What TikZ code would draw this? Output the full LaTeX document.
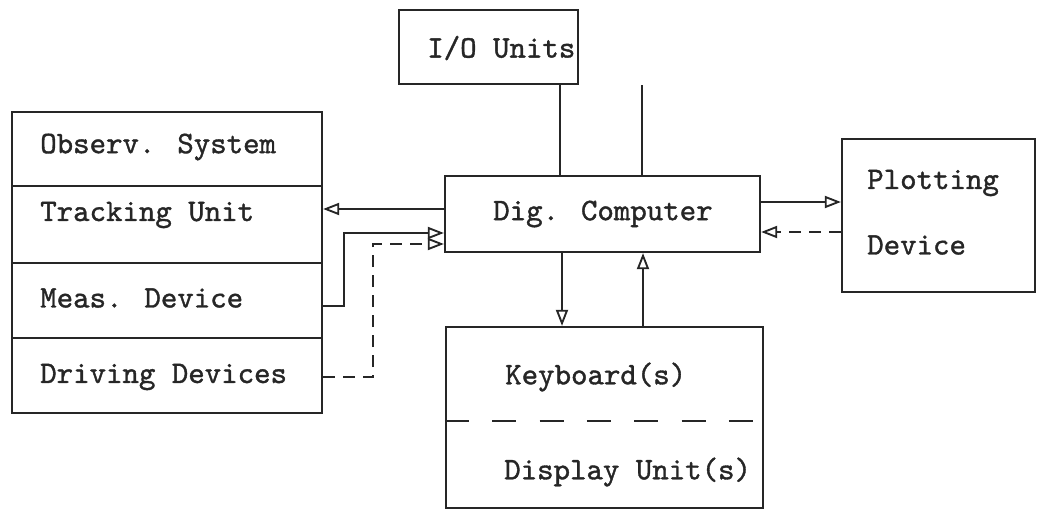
\documentclass[tikz,border=0pt]{standalone}
\usepackage{fontspec}
\newfontfamily\twfont[FakeBold=1.2]{lmmono10-regular.otf}
\usetikzlibrary{arrows.meta,fit,calc}
\begin{document}
\begin{tikzpicture}[x=0.75pt,y=-0.75pt,
  ln/.style={line width=1.7pt, draw=black!85},
  box/.style={draw, ln, inner sep=0pt},
  lbl/.style={font=\fontsize{23.5}{28}\selectfont\twfont, anchor=west, inner sep=0pt, text=black!85},
  arr/.style={ln, -{Triangle[open,length=12pt,width=9pt,line width=1.4pt]}},
  dsh/.style={dash pattern=on 9pt off 6pt}]
\fill[white] (0,0) rectangle (1038,510);
\useasboundingbox (0,0) rectangle (1038,510);
% coordinates for connector levels
\coordinate (y209) at (0,209);
\coordinate (y306) at (0,306);
\coordinate (y233) at (0,233);
\coordinate (y377) at (0,377);
\coordinate (y244) at (0,244);
\coordinate (y202) at (0,202);
\coordinate (y232) at (0,232);
\coordinate (y421) at (0,421);
\coordinate (x560) at (560,0);
\coordinate (x642) at (642,0);
\coordinate (x562) at (562,0);
\coordinate (x643) at (643,0);
% boxes
\node[box, fit={(12,112)(322,186)}] (obs) {};
\node[box, fit={(12,186)(322,263)}] (trk) {};
\node[box, fit={(12,263)(322,338)}] (meas) {};
\node[box, fit={(12,338)(322,413)}] (drv) {};
\node[box, fit={(399,10)(578,84)}] (io) {};
\node[box, fit={(445,176)(760,252)}] (dig) {};
\node[box, fit={(842,139)(1035,292)}] (plot) {};
\node[box, fit={(446,327)(763,508)}] (kbd) {};
\draw[ln, dash pattern=on 18pt off 17.5pt] (kbd.west |- y421) -- (kbd.east |- y421);
% labels
\node[lbl] (tobs) at (40,147) {Observ. System};
\node[lbl] (ttrk) at (40,215) {Tracking Unit};
\node[lbl] (tmeas) at (40,298) {Meas. Device};
\node[lbl] (tdrv) at (40,377) {Driving Devices};
\node[lbl] (tio) at (427,48) {I/O Units};
\node[lbl] (tdig) at (493,214) {Dig. Computer};
\node[lbl] (tplot1) at (867,183) {Plotting};
\node[lbl] (tplot2) at (867,245) {Device};
\node[lbl] (tkbd) at (505,377) {Keyboard(s)};
\node[lbl] (tdisp) at (504,472) {Display Unit(s)};
% connectors
\draw[arr] (dig.west |- y209) -- (trk.east |- y209);
\draw[arr] (meas.east |- y306) -- ++(21,0) |- (dig.west |- y233);
\draw[arr, dsh] (drv.east |- y377) -- ++(50,0) |- (dig.west |- y244);
\draw[ln] (io.south -| x560) -- (dig.north -| x560);
\draw[ln] (io.south -| x642) -- (dig.north -| x642);
\draw[arr] (dig.south -| x562) -- (kbd.north -| x562);
\draw[arr] (kbd.north -| x643) -- (dig.south -| x643);
\draw[arr] (dig.east |- y202) -- (plot.west |- y202);
\draw[arr, dsh] (plot.west |- y232) -- (dig.east |- y232);
\end{tikzpicture}
\end{document}
